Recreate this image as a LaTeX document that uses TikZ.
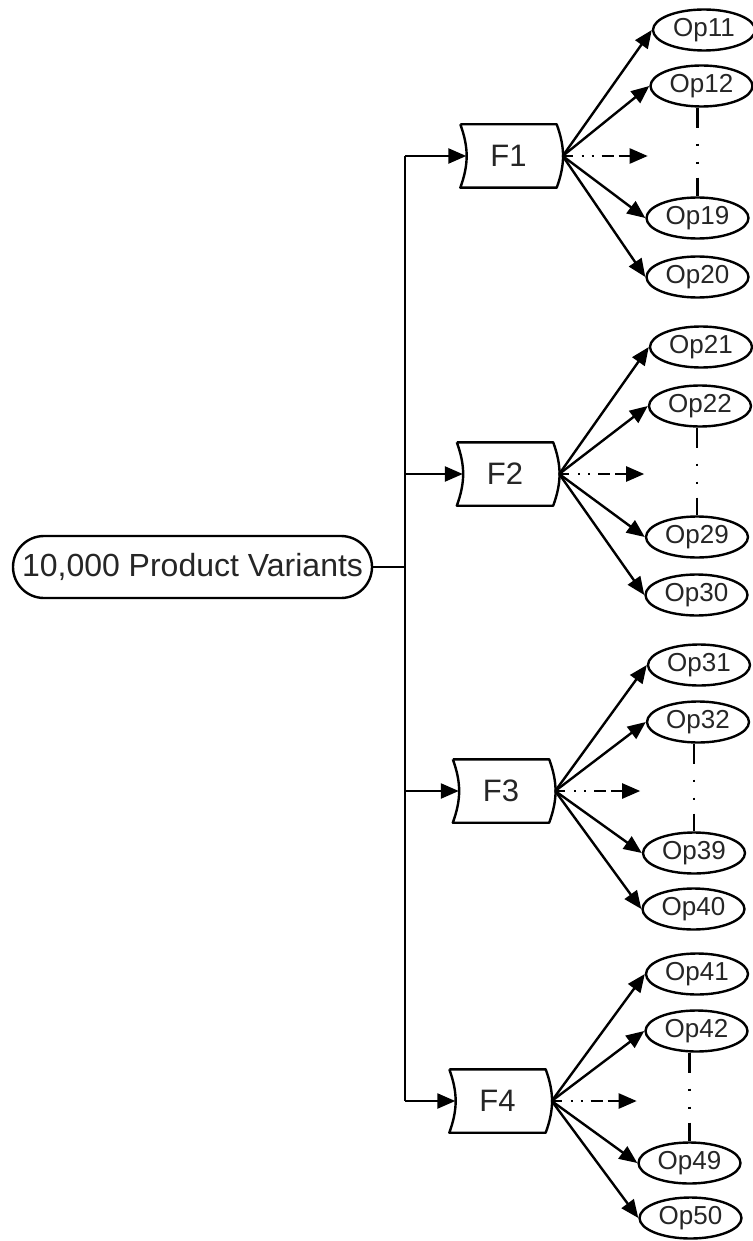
\documentclass[tikz,border=0pt]{standalone}
\usepackage{fontspec}
\setmainfont{Liberation Sans}
\usetikzlibrary{shapes.geometric,arrows.meta}
\begin{document}
\begin{tikzpicture}[x=1pt,y=-1pt,
  line width=2.4pt,
  every node/.style={text=black!85},
  opnode/.style={ellipse,draw=black,line width=2.4pt,minimum width=102pt,minimum height=41pt,
    inner sep=0pt,font=\fontsize{26pt}{30pt}\selectfont},
  fbox/.style={rectangle,minimum width=94pt,minimum height=61pt,inner sep=0pt,
    font=\fontsize{31pt}{36pt}\selectfont},
  fshape/.style={line width=2.4pt,line join=round},
  rootnode/.style={rectangle,draw=black,line width=2.4pt,rounded corners=31pt,
    minimum width=359pt,minimum height=62pt,inner sep=0pt,
    font=\fontsize{32pt}{37pt}\selectfont},
  arr/.style={-{Triangle[length=18pt,width=15pt]}},
  dasharr/.style={arr,dash pattern=on 10pt off 9pt on 2pt off 8pt on 2pt off 8pt on 12pt off 5pt on 30pt},
  dotline/.style={dash pattern=on 20pt off 16pt on 2pt off 16pt on 2pt off 14pt on 40pt},
]
\fill[white] (0,0) rectangle (752,1241);
\useasboundingbox (0,0) rectangle (752,1241);

% root
\node[rootnode] (root) at (192.5,567) {10,000 Product Variants};

% feature boxes
\node[fbox] (F1) at (508.5,156) {F1};
\node[fbox] (F2) at (505,474) {F2};
\node[fbox] (F3) at (501,791) {F3};
\node[fbox] (F4) at (497.5,1101) {F4};

% trunk junctions
\coordinate (T1) at (405,156);
\coordinate (T2) at (405,474);
\coordinate (T3) at (405,791);
\coordinate (T4) at (405,1101);

\foreach \f in {F1,F2,F3,F4}{
  \draw[fshape] (\f.north west) -- (\f.north east) to[bend left=20] (\f.south east)
    -- (\f.south west) to[bend right=20] (\f.north west);
  \coordinate (\f-in) at ([xshift=6pt]\f.west);
  \coordinate (\f-out) at ([xshift=6pt]\f.east);
  \coordinate (\f-dots) at ([xshift=91pt]\f.east);
}

% option ellipses
\node[opnode] (Op11) at (704,30) {Op11};
\node[opnode] (Op12) at (701.5,86) {Op12};
\node[opnode] (Op19) at (697.5,218) {Op19};
\node[opnode] (Op20) at (697.5,277) {Op20};

\node[opnode] (Op21) at (701,347) {Op21};
\node[opnode] (Op22) at (700,406) {Op22};
\node[opnode] (Op29) at (697,537) {Op29};
\node[opnode] (Op30) at (696.5,595) {Op30};

\node[opnode] (Op31) at (699,665) {Op31};
\node[opnode] (Op32) at (698,722) {Op32};
\node[opnode] (Op39) at (694,853) {Op39};
\node[opnode] (Op40) at (693.5,909) {Op40};

\node[opnode] (Op41) at (697,974) {Op41};
\node[opnode] (Op42) at (696.5,1031) {Op42};
\node[opnode] (Op49) at (689.5,1163) {Op49};
\node[opnode] (Op50) at (690.5,1218) {Op50};

% trunk from the root to the four features
\draw (root.east) -- (root.east -| T1);
\draw (T1) -- (T4);
\draw[arr] (T1) -- (F1-in);
\draw[arr] (T2) -- (F2-in);
\draw[arr] (T3) -- (F3-in);
\draw[arr] (T4) -- (F4-in);

% fans
\foreach \f/\a/\b/\c/\d in {F1/Op11/Op12/Op19/Op20,F2/Op21/Op22/Op29/Op30,
                            F3/Op31/Op32/Op39/Op40,F4/Op41/Op42/Op49/Op50}{
  \draw[arr] (\f-out) -- (\a.west);
  \draw[arr] (\f-out) -- (\b.west);
  \draw[arr] (\f-out) -- (\c.west);
  \draw[arr] (\f-out) -- (\d.west);
  \draw[dasharr] (\f-out) -- (\f-dots);
  \draw[dotline] (\c.north |- \b.south) -- (\c.north);
}
\end{tikzpicture}
\end{document}
